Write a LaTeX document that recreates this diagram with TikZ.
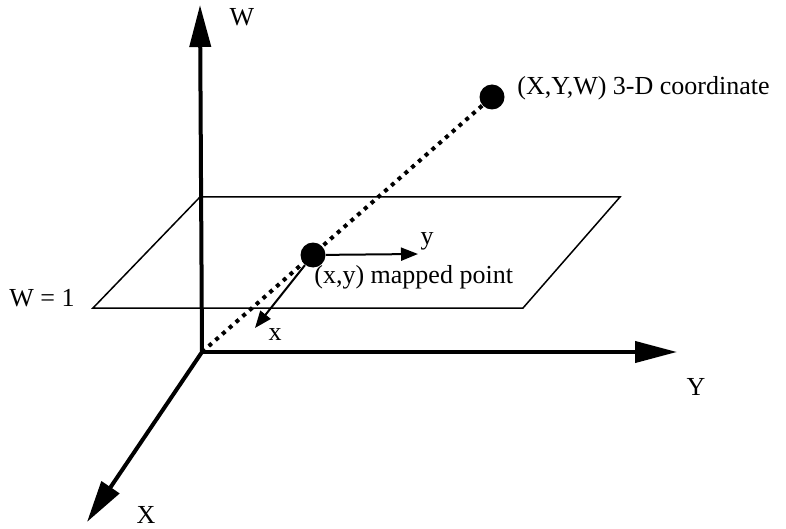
\documentclass[tikz,border=0pt]{standalone}
\usepackage{fontspec}
\setmainfont{Liberation Serif}
\usetikzlibrary{arrows.meta,positioning,calc}
\tikzset{
  every node/.style={font=\fontsize{13}{15}\selectfont,inner sep=0},
  axis/.style={-{Triangle[length=21pt,width=10.5pt]},line width=2pt},
  plane/.style={line width=.75pt,line join=miter},
  ray/.style={line width=2pt,dash pattern=on 2pt off 2.5pt},
  vec/.style={-{Triangle[length=8.5pt,width=6.5pt]},line width=1pt},
  pt/.style={circle,fill=black,minimum size=12.5pt,inner sep=0}
}
\begin{document}
\begin{tikzpicture}[x=.5pt,y=-.5pt]
\path[use as bounding box] (0,0) rectangle (786,529);
\coordinate (o) at (202,352);
\coordinate (wtip) at (200,5);
\coordinate (ytip) at (677,352);
\coordinate (xtip) at (87,522);
\draw[plane] (200,197) -- (620,197) -- (523,308) -- (93,308) -- cycle;
\node[pt] (far) at (492,97) {};
\node[pt] (mapped) at (313,255) {};
\draw[ray] (o) -- (far);
\draw[axis] (o) -- (wtip);
\draw[axis] (o) -- (ytip);
\draw[axis] (o) -- (xtip);
\coordinate (yvec) at (418,254);
\coordinate (xvec) at (255,328);
\draw[vec] (mapped) -- (yvec);
\draw[vec] (mapped) -- (xvec);
\node (wlab) at (242,17) {W};
\node (ylab) at (696,387) {Y};
\node (xlab) at (146,515) {X};
\node (planelab) at (42,298) {W = 1};
\node (yveclab) at (427,241) {y};
\node (xveclab) at (275,335) {x};
\node[anchor=west] (mappedlab) at (314,277) {(x,y) mapped point};
\node[anchor=west] (farlab) at (517,88) {(X,Y,W) 3-D coordinate};
\end{tikzpicture}
\end{document}
